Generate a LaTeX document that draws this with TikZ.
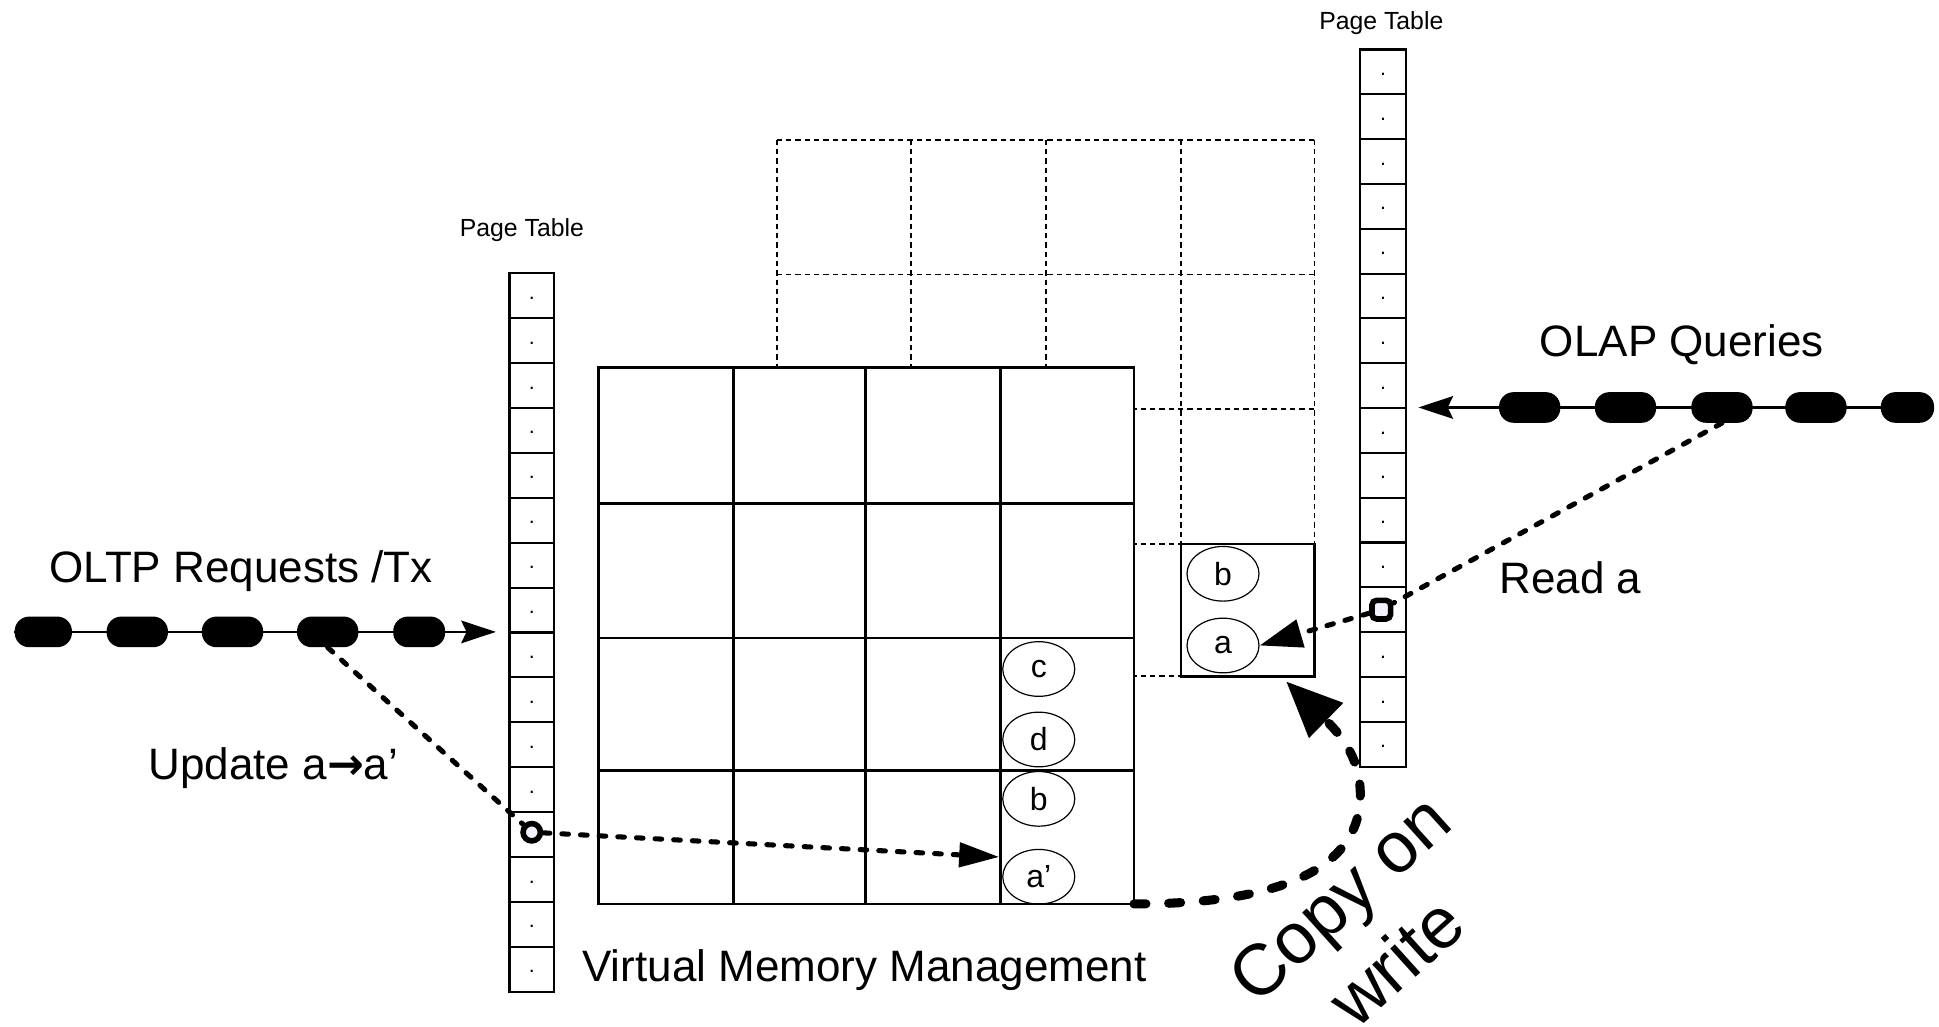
\documentclass[tikz,border=0pt]{standalone}
\usepackage{fontspec}
\setmainfont{Liberation Sans}
\newfontfamily\djv{DejaVu Sans}
\usetikzlibrary{arrows.meta,shapes.geometric}
\begin{document}
\begin{tikzpicture}[x=0.9275pt,y=-0.9275pt,
  pill/.style={fill=black, rounded corners=11pt, minimum height=23pt, inner sep=0},
  cellel/.style={draw, ellipse, line width=0.9pt, minimum width=54pt, minimum height=41pt, inner sep=0, font=\fontsize{24}{24}\selectfont},
  lbl/.style={font=\fontsize{33}{38}\selectfont, anchor=base, inner sep=0},
  ptl/.style={font=\fontsize{18.6}{20}\selectfont, anchor=base, inner sep=0},
  dotl/.style={font=\fontsize{16}{16}\selectfont, anchor=base, inner sep=0},
  gridsolid/.style={line width=1.9pt},
  griddashed/.style={line width=1.4pt, dash pattern=on 4pt off 3pt},
  tbl/.style={line width=1.6pt},
  conn/.style={line width=3.8pt, dash pattern=on 5pt off 9pt, line cap=round},
  cow/.style={line width=6.8pt, dash pattern=on 9pt off 17pt, line cap=round},
  flow/.style={line width=1.6pt},
]
\useasboundingbox (0,0) rectangle (1568,830);

% dashed (snapshot) grid
\foreach \x in {628,737,846,955,1063} \draw[griddashed] (\x,113) -- (\x,547);
\foreach \y in {113,222,331,440,547} \draw[griddashed] (628,\y) -- (1063,\y);
\draw[gridsolid] (955,440) rectangle (1063,547);

% main grid
\fill[white] (484,297) rectangle (917,731);
\draw[gridsolid] (484,297) rectangle (917,731);
\foreach \x in {593,700,809} \draw[gridsolid] (\x,297) -- (\x,731);
\foreach \y in {407,516,623} \draw[gridsolid] (484,\y) -- (917,\y);

% page tables
\draw[tbl] (412,221) rectangle (448,802);
\foreach \i in {1,...,15} \draw[tbl] (412,221+\i*36.3125) -- (448,221+\i*36.3125);
\foreach \i in {0,...,15} \node[dotl] at (430,221+\i*36.3125+21) {.};
\draw[tbl] (1100,40) rectangle (1137,620);
\foreach \i in {1,...,15} \draw[tbl] (1100,40+\i*36.25) -- (1137,40+\i*36.25);
\foreach \i in {0,...,15} \node[dotl] at (1118.5,40+\i*36.25+21) {.};
\node[ptl] (pt1) at (422,191) {Page Table};
\node[ptl] (pt2) at (1117,24) {Page Table};

% markers
\node[circle, draw, line width=4.2pt, fill=blue!5, minimum size=13pt, inner sep=0] (circ) at (430,673) {};
\node[rectangle, rounded corners=3.5pt, draw, line width=4.2pt, fill=blue!5, minimum size=14pt, inner sep=0] (sq) at (1117,493) {};

% ellipses
\node[cellel] (b2) at (989,464) {b};
\node[cellel] (a2) at (989,522) {a};
\node[cellel] (c1) at (840,541) {c};
\node[cellel] (d1) at (840,598) {d};
\node[cellel] (b1) at (840,646) {b};
\node[cellel] (ap) at (840,709) {a’};

% OLTP stream
\node[pill, minimum width=43pt] (p1) at (35,511) {};
\node[pill, minimum width=46pt] (p2) at (111,511) {};
\node[pill, minimum width=46pt] (p3) at (188,511) {};
\node[pill, minimum width=46pt] (p4) at (265,511) {};
\node[pill, minimum width=39pt] (p5) at (339,511) {};
\coordinate (ltin) at (401,511);
\draw[flow, -{Stealth[length=26pt,width=17pt,inset=4pt]}] (p1.west) -- (ltin);
\node[lbl] (oltpl) at (195,471) {OLTP Requests /Tx};

% OLAP stream
\node[pill, minimum width=46pt] (o1) at (1237,329.5) {};
\node[pill, minimum width=46pt] (o2) at (1314.5,329.5) {};
\node[pill, minimum width=46pt] (o3) at (1392.5,329.5) {};
\node[pill, minimum width=46pt] (o4) at (1468.5,329.5) {};
\node[pill, minimum width=40pt] (o5) at (1542.5,329.5) {};
\coordinate (rtin) at (1147,329.5);
\draw[flow, -{Stealth[length=26pt,width=17pt,inset=4pt]}] (o5.east) -- (rtin);
\node[lbl] (olapl) at (1360,288) {OLAP Queries};

% update path
\coordinate (aptip) at (808,693);
\draw[conn] (p4.south) -- (circ);
\draw[conn, -{Triangle[length=30pt,width=18pt]}] (circ) -- (aptip);
\node[lbl] (updl) at (221,630) {Update a{\djv\bfseries →}a’};

% read path
\draw[conn] (o3.south) -- (sq);
\draw[conn, -{Triangle[length=32pt,width=21pt]}] (sq) -- (a2.east);
\node[lbl] (readl) at (1270,480) {Read a};

% copy on write
\coordinate (gbr) at (917,731);
\coordinate (boxbr) at (1040,551);
\draw[cow, -{Triangle[length=42pt,width=35pt]}] (gbr) .. controls (1030,731) and (1102,705) .. (1100,640) .. controls (1099,610) and (1082,592) .. (boxbr);
\node[font=\fontsize{54}{64}\selectfont, align=center, rotate=42, inner sep=0] (cowl) at (1106,752) {Copy on\\write};

\node[lbl] (vmm) at (699,794) {Virtual Memory Management};
\end{tikzpicture}
\end{document}
